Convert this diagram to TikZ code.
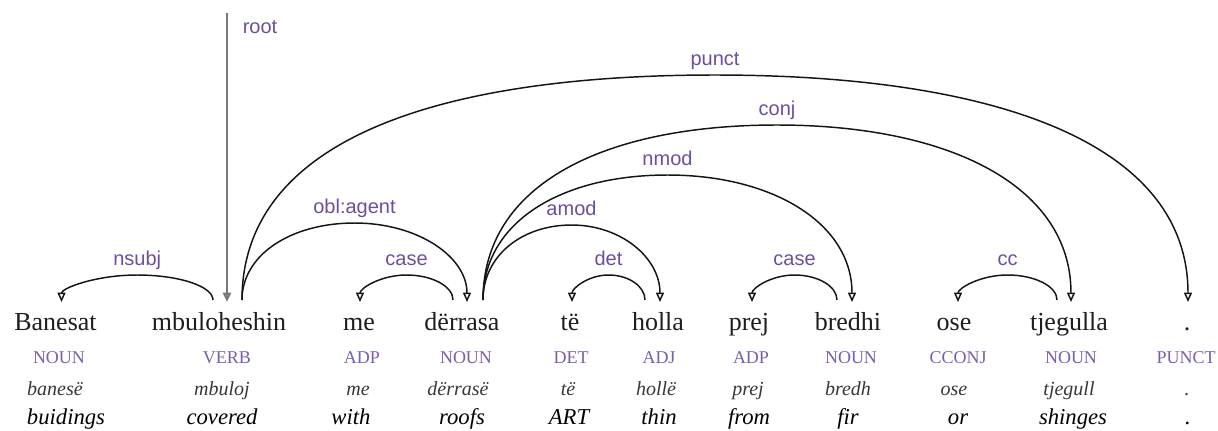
\documentclass[tikz,border=0pt]{standalone}
\usepackage{fontspec}
\setmainfont{Liberation Serif}
\setsansfont{Liberation Sans}
\usetikzlibrary{arrows.meta,calc}

\definecolor{rellabel}{RGB}{108,78,160}
\definecolor{postag}{RGB}{122,94,172}
\definecolor{lemmagray}{RGB}{55,55,55}
\definecolor{wordblack}{RGB}{30,30,30}
\definecolor{rootgray}{RGB}{120,120,120}

\tikzset{
  word/.style={anchor=base, inner sep=0pt, text=wordblack, font=\fontsize{19.5}{20}\selectfont},
  upos/.style={anchor=base, inner sep=0pt, text=postag, font=\fontsize{13.5}{14}\selectfont},
  lemma/.style={anchor=base, inner sep=0pt, text=lemmagray, font=\fontsize{15}{16}\selectfont\itshape},
  gloss/.style={anchor=base, inner sep=0pt, text=black, font=\fontsize{17}{18}\selectfont\itshape},
  arclabel/.style={anchor=base, inner sep=0pt, text=rellabel, font=\sffamily\fontsize{15}{16}\selectfont},
  deparc/.style={draw=black!92, line width=1.1pt, -{Triangle[open, length=7pt, width=6pt]}},
  rootline/.style={draw=rootgray, line width=1.8pt, -{Triangle[open, length=7pt, width=6pt]}}
}

% dependency arc from #1 to #2, rising #3 px, labelled #4;
% taller arcs get steeper flanks
\newcommand{\deparc}[4]{%
  \draw[deparc] let \p1=(#1), \p2=(#2), \n1={#3*0.75}, \n2={0.5*(\x1+\x2)},
      \n3={0.55+0.15*(#3-25)/200}, \n4={0.45-0.05*(#3-25)/200} in
    (\p1) .. controls (\x1,{\y1+\n3*\n1}) and ({\x1+\n4*(\n2-\x1)},{\y1+\n1}) .. ({\n2*1pt},{\y1+\n1})
          .. controls ({\x2-\n4*(\x2-\n2)},{\y1+\n1}) and (\x2,{\y2+\n3*\n1}) .. (\p2)
    node[arclabel] at ({\n2*1pt},{\y1+\n1+7.5}) {#4};
}

\begin{document}
\begin{tikzpicture}[x=0.75pt, y=-0.75pt]
\useasboundingbox (0,0) rectangle (1218,430);

% words
\node[word] (w1)  at (55.5,330) {Banesat};
\node[word] (w2)  at (219,330)  {mbuloheshin};
\node[word] (w3)  at (359,330)  {me};
\node[word] (w4)  at (462,330)  {dërrasa};
\node[word] (w5)  at (570,330)  {të};
\node[word] (w6)  at (658,330)  {holla};
\node[word] (w7)  at (749,330)  {prej};
\node[word] (w8)  at (848,330)  {bredhi};
\node[word] (w9)  at (954,330)  {ose};
\node[word] (w10) at (1069,330) {tjegulla};
\node[word] (w11) at (1187,330) {.};

% part-of-speech tags
\node[upos] (p1)  at (59,363)   {NOUN};
\node[upos] (p2)  at (227,363)  {VERB};
\node[upos] (p3)  at (362,363)  {ADP};
\node[upos] (p4)  at (466,363)  {NOUN};
\node[upos] (p5)  at (571,363)  {DET};
\node[upos] (p6)  at (659,363)  {ADJ};
\node[upos] (p7)  at (751,363)  {ADP};
\node[upos] (p8)  at (851,363)  {NOUN};
\node[upos] (p9)  at (958,363)  {CCONJ};
\node[upos] (p10) at (1071,363) {NOUN};
\node[upos] (p11) at (1186,363) {PUNCT};

% lemmas
\node[lemma] (l1)  at (55,395)   {banesë};
\node[lemma] (l2)  at (222,395)  {mbuloj};
\node[lemma] (l3)  at (358,395)  {me};
\node[lemma] (l4)  at (458,395)  {dërrasë};
\node[lemma] (l5)  at (568,395)  {të};
\node[lemma] (l6)  at (656,395)  {hollë};
\node[lemma] (l7)  at (748,395)  {prej};
\node[lemma] (l8)  at (848,395)  {bredh};
\node[lemma] (l9)  at (954,395)  {ose};
\node[lemma] (l10) at (1069,395) {tjegull};
\node[lemma] (l11) at (1187,395) {.};

% glosses
\node[gloss] (g1)  at (66,424)   {buidings};
\node[gloss] (g2)  at (222,424)  {covered};
\node[gloss] (g3)  at (351,424)  {with};
\node[gloss] (g4)  at (462,424)  {roofs};
\node[gloss] (g5)  at (569,424)  {ART};
\node[gloss] (g6)  at (659,424)  {thin};
\node[gloss] (g7)  at (749,424)  {from};
\node[gloss] (g8)  at (848,424)  {fir};
\node[gloss] (g9)  at (958,424)  {or};
\node[gloss] (g10) at (1073,424) {shinges};
\node[gloss] (g11) at (1188,424) {.};

% attachment points above the words
\coordinate (w1-in)   at ($(w1.base)+(6,-28)$);
\coordinate (w2-root) at ($(w2.base)+(8,-28)$);
\coordinate (w2-l)    at ($(w2.base)+(-6,-30)$);
\coordinate (w2-r)    at ($(w2.base)+(23,-30)$);
\coordinate (w3-in)   at ($(w3.base)+(1,-28)$);
\coordinate (w4-l)    at ($(w4.base)+(-9,-30)$);
\coordinate (w4-in)   at ($(w4.base)+(5,-28)$);
\coordinate (w4-r)    at ($(w4.base)+(21,-30)$);
\coordinate (w5-in)   at ($(w5.base)+(2,-28)$);
\coordinate (w6-l)    at ($(w6.base)+(-13,-30)$);
\coordinate (w6-in)   at ($(w6.base)+(2,-28)$);
\coordinate (w7-in)   at ($(w7.base)+(3,-28)$);
\coordinate (w8-l)    at ($(w8.base)+(-11,-30)$);
\coordinate (w8-in)   at ($(w8.base)+(4,-28)$);
\coordinate (w9-in)   at ($(w9.base)+(4,-28)$);
\coordinate (w10-l)   at ($(w10.base)+(-12,-30)$);
\coordinate (w10-in)  at ($(w10.base)+(2,-28)$);
\coordinate (w11-in)  at ($(w11.base)+(1,-28)$);
\coordinate (roottop) at ($(w2.base)+(8,-317)$);

% root
\draw[rootline] (roottop) -- (w2-root);
\node[arclabel] (rootlbl) at (260,33) {root};

% dependency arcs
\deparc{w2-l}{w1-in}{25}{nsubj}
\deparc{w2-r}{w4-in}{77}{obl:agent}
\deparc{w4-l}{w3-in}{25}{case}
\deparc{w2-r}{w11-in}{225}{punct}
\deparc{w4-r}{w6-in}{75}{amod}
\deparc{w6-l}{w5-in}{25}{det}
\deparc{w4-r}{w8-in}{125}{nmod}
\deparc{w8-l}{w7-in}{25}{case}
\deparc{w4-r}{w10-in}{175}{conj}
\deparc{w10-l}{w9-in}{25}{cc}
\end{tikzpicture}
\end{document}
